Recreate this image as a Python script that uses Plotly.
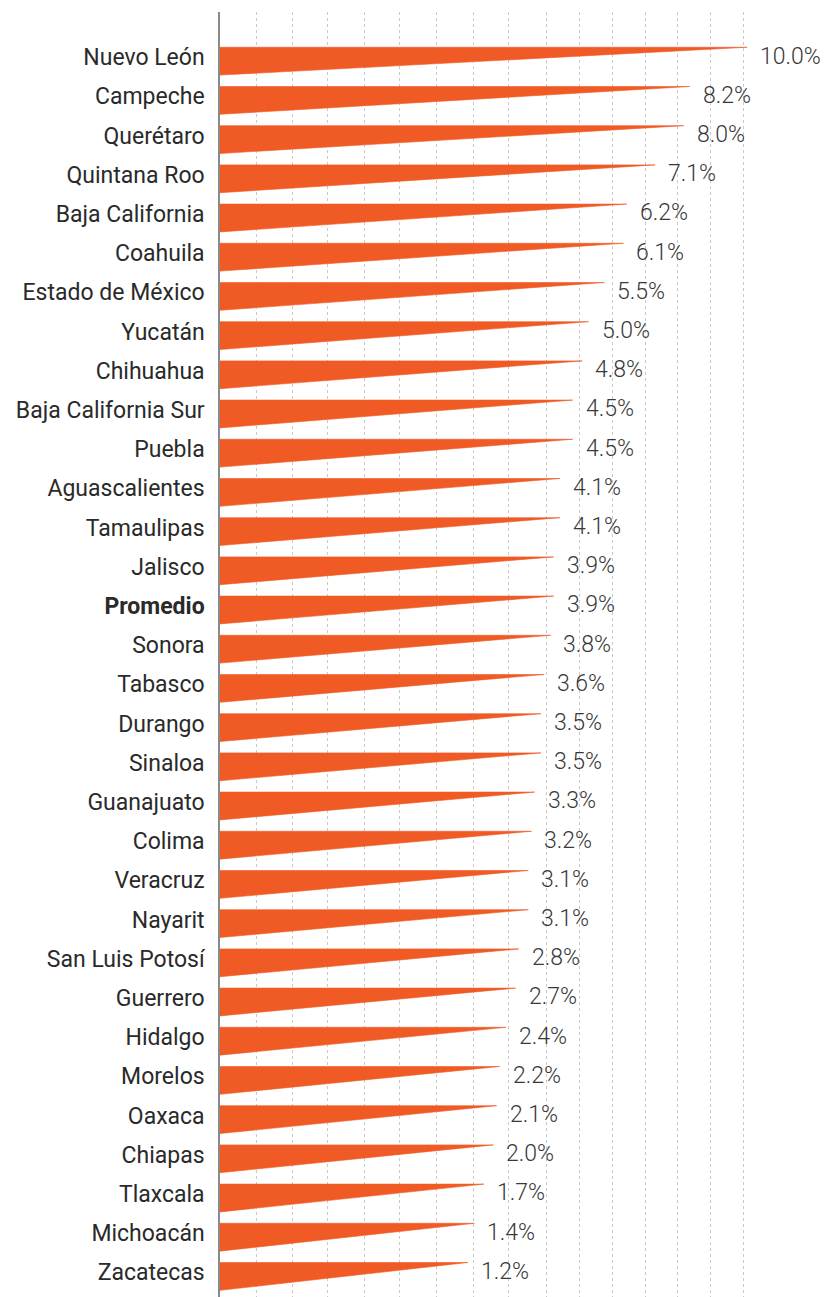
import plotly.graph_objects as go

# Estados y valores (%)
estados = [
    "Nuevo León", "Campeche", "Querétaro", "Quintana Roo", "Baja California",
    "Coahuila", "Estado de México", "Yucatán", "Chihuahua", "Baja California Sur",
    "Puebla", "Aguascalientes", "Tamaulipas", "Jalisco", "Promedio", "Sonora",
    "Tabasco", "Durango", "Sinaloa", "Guanajuato", "Colima", "Veracruz",
    "Nayarit", "San Luis Potosí", "Guerrero", "Hidalgo", "Morelos", "Oaxaca",
    "Chiapas", "Tlaxcala", "Michoacán", "Zacatecas",
]
valores = [
    10.0, 8.2, 8.0, 7.1, 6.2, 6.1, 5.5, 5.0, 4.8, 4.5, 4.5, 4.1, 4.1, 3.9,
    3.9, 3.8, 3.6, 3.5, 3.5, 3.3, 3.2, 3.1, 3.1, 2.8, 2.7, 2.4, 2.2, 2.1,
    2.0, 1.7, 1.4, 1.2,
]
etiquetas = [f"{v:.1f}%" for v in valores]
destacado = "Promedio"

# Escala horizontal (la cuña arranca en el borde izquierdo del eje)
X_MIN, X_MAX = -6.62, 12.55
GRID = [-5.46, -4.35, -3.22, -2.05, -0.95, 0.22, 1.36, 2.49, 3.66,
        4.70, 5.74, 6.78, 7.79, 8.83, 9.87]

NARANJA = "#F05A24"
FUENTE = "Roboto, sans-serif"

TOP, BOT = -0.25, 0.46  # bordes de la cuña respecto a la fila

fig = go.Figure()

n = len(estados)
for i, (nombre, v) in enumerate(zip(estados, valores)):
    fig.add_trace(go.Scatter(
        x=[X_MIN, v, X_MIN, X_MIN],
        y=[i + TOP, i + TOP, i + BOT, i + TOP],
        mode="lines",
        fill="toself",
        fillcolor=NARANJA,
        line=dict(width=0.6, color=NARANJA),
        hoverinfo="skip",
        showlegend=False,
    ))
    fig.add_annotation(
        x=v, y=i, text=etiquetas[i], showarrow=False,
        xanchor="left", yanchor="middle", xshift=11, yshift=1,
        font=dict(family=FUENTE, size=23, color="#383838", weight=300),
    )

ticktext = [f"<b>{e}</b>" if e == destacado else e for e in estados]

fig.update_layout(
    width=828, height=1297,
    margin=dict(l=220, r=0, t=12, b=0),
    paper_bgcolor="white",
    plot_bgcolor="white",
    showlegend=False,
    xaxis=dict(
        range=[X_MIN, X_MAX],
        tickmode="array", tickvals=GRID, showticklabels=False,
        showgrid=True, gridcolor="#c9c9c9", griddash="dot", gridwidth=1,
        zeroline=False, showline=False, ticks="",
    ),
    yaxis=dict(
        range=[31.63, -1.15],
        tickmode="array", tickvals=list(range(n)), ticktext=ticktext,
        showgrid=False, zeroline=False,
        showline=True, linecolor="#8a8a8a", linewidth=1.5,
        ticks="", ticklabelstandoff=9,
        tickfont=dict(family=FUENTE, size=23, color="#2a2a2a"),
    ),
)

fig.write_html("out.html")
